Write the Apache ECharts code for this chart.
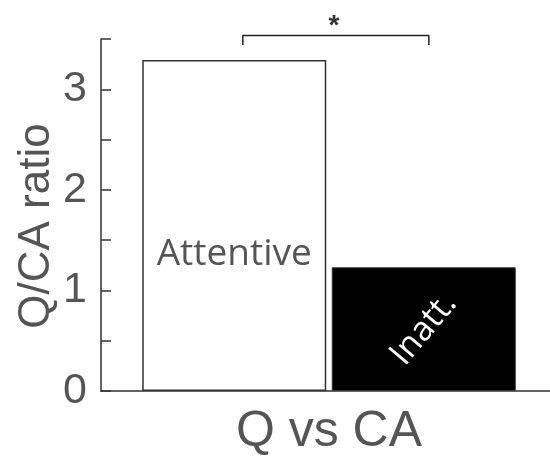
<!DOCTYPE html>
<html>
<head>
<meta charset="utf-8">
<script src="https://cdn.jsdelivr.net/npm/echarts@6/dist/echarts.min.js"></script>
<style>html,body{margin:0;padding:0;background:#fff}#c{width:550px;height:458px}</style>
</head>
<body>
<div id="c"></div>
<script>
const category = ['Q vs CA'];
const groupNames = ['Attentive', 'Inatt.'];
const attentiveValues = [3.29];
const inattValues = [1.23];
const yTicks = [0, 1, 2, 3];
// significance bracket (x as fraction of the group band, y in ratio units)
const bracketX = [0.311, 0.311, 0.719, 0.719];
const bracketY = [3.44, 3.535, 3.535, 3.44];
const starPos = [[0.511, 3.63]];
const starText = '*';

const chart = echarts.init(document.getElementById('c'), null, {renderer: 'canvas'});
const gray = '#555';
chart.setOption({
  animation: false,
  backgroundColor: '#fff',
  grid: {left: 101, width: 456, top: 39, bottom: 67, containLabel: false, outerBoundsMode: 'none'},
  xAxis: [{
    type: 'category', data: category, gridIndex: 0,
    axisLine: {show: true, lineStyle: {color: '#333', width: 1.5}},
    axisTick: {show: false}, axisLabel: {show: false},
    name: category[0], nameLocation: 'middle', nameGap: 16, nameMoveOverlap: false,
    nameTextStyle: {fontFamily: 'Liberation Sans', fontSize: 50, color: gray}
  }, {
    type: 'value', min: 0, max: 1, show: false, gridIndex: 0
  }],
  yAxis: {
    type: 'value', min: 0, max: 3.5, interval: 0.5,
    axisLine: {show: true, lineStyle: {color: '#333', width: 1.5}},
    axisTick: {show: true, inside: true, length: 10, lineStyle: {color: '#333', width: 1.5}},
    splitLine: {show: false},
    axisLabel: {
      margin: 14, fontFamily: 'Liberation Sans', fontSize: 43, color: gray,
      formatter: v => (yTicks.indexOf(v) >= 0 ? String(v) : '')
    },
    name: 'Q/CA ratio', nameLocation: 'middle', nameGap: 42, nameRotate: 90, nameMoveOverlap: false,
    nameTextStyle: {fontFamily: 'Liberation Sans', fontSize: 44, color: gray, padding: [0, 22, 0, 0]}
  },
  series: [{
    name: groupNames[0], type: 'bar', data: attentiveValues, barWidth: 184, barGap: '3%',
    itemStyle: {color: '#fff', borderColor: '#333', borderWidth: 1.5},
    label: {show: true, formatter: groupNames[0], position: ['50%', '58.7%'], align: 'center', verticalAlign: 'middle',
      fontFamily: 'Open Sans', fontSize: 37, color: gray}
  }, {
    name: groupNames[1], type: 'bar', data: inattValues, barWidth: 184,
    itemStyle: {color: '#000', borderColor: '#333', borderWidth: 1},
    label: {show: true, formatter: groupNames[1], position: 'inside', rotate: 50,
      fontFamily: 'Open Sans', fontSize: 34, color: '#fff'}
  }, {
    type: 'line', xAxisIndex: 1, data: bracketX.map((x, i) => [x, bracketY[i]]),
    symbol: 'none', clip: false, lineStyle: {color: '#222', width: 1.5}, silent: true
  }, {
    type: 'scatter', xAxisIndex: 1, data: starPos, symbolSize: 0, clip: false,
    label: {show: true, formatter: starText, position: 'inside', fontFamily: 'Liberation Sans', fontWeight: 'bold', fontSize: 28, color: '#000'}
  }]
});
</script>
</body>
</html>
